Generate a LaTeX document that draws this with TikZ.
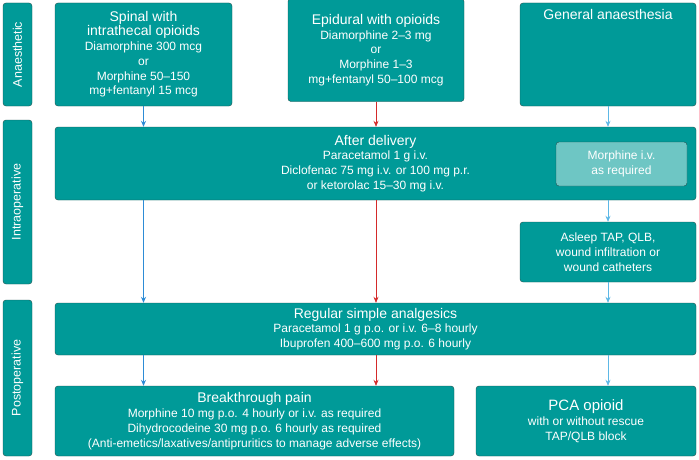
\documentclass[tikz,border=0pt]{standalone}
\usepackage{fontspec}
\setmainfont{Liberation Sans}
\usetikzlibrary{arrows.meta}
\definecolor{teal1}{HTML}{009A98}
\definecolor{teal2}{HTML}{6EC6C4}
\definecolor{edge1}{HTML}{1F4F4E}
\definecolor{ablue}{HTML}{2D8CD6}
\definecolor{ared}{HTML}{D42A2A}
\definecolor{alblue}{HTML}{5DB8E6}
\newcommand{\ttl}[1]{{\fontsize{14}{15.5}\selectfont #1}}
\tikzset{
 box/.style={draw=edge1,fill=teal1,rounded corners=3pt,text=white,align=center,inner sep=0pt,
  font=\fontsize{12}{14.8}\selectfont},
 sbox/.style={box,fill=teal2},
 side/.style={box,font=\fontsize{12.5}{14}\selectfont},
 arr/.style={-{Stealth[length=6pt,width=5pt]},line width=0.7pt}
}
\begin{document}
\begin{tikzpicture}[x=1pt,y=-1pt]
\useasboundingbox (0,0) rectangle (699,460);
% side labels
\node[side,minimum width=29,minimum height=103] (s1) at (17.5,54.5) {};
\node[rotate=90,text=white,font=\fontsize{12.5}{14}\selectfont] (s1t) at (s1) {Anaesthetic};
\node[side,minimum width=29,minimum height=164] (s2) at (17.5,202) {};
\node[rotate=90,text=white,font=\fontsize{12.5}{14}\selectfont] (s2t) at (s2) {Intraoperative};
\node[side,minimum width=29,minimum height=156] (s3) at (17.5,378) {};
\node[rotate=90,text=white,font=\fontsize{12.5}{14}\selectfont] (s3t) at (s3) {Postoperative};
% top row
\node[box,minimum width=177,minimum height=103] (sp) at (143.5,54.5) {\ttl{Spinal with}\\[-1pt]\ttl{intrathecal opioids}\\Diamorphine 300 mcg\\or\\Morphine 50--150\\mg+fentanyl 15 mcg};
\node[box,minimum width=176,minimum height=103] (ep) at (376,50) {\ttl{Epidural with opioids}\\Diamorphine 2--3 mg\\or\\Morphine 1--3\\mg+fentanyl 50--100 mcg};
\node[box,minimum width=176,minimum height=103] (ga) at (608,54.5) {};
\node[text=white,font=\fontsize{14}{15.5}\selectfont,anchor=north] (gat) at (608,6) {General anaesthesia};
% intraop
\node[box,minimum width=641,minimum height=73] (ad) at (375.5,163.5) {\ttl{After delivery}\\Paracetamol 1 g i.v.\\Diclofenac 75 mg i.v. or 100 mg p.r.\\or ketorolac 15--30 mg i.v.};
\node[sbox,minimum width=131,minimum height=44] (mo) at (621.5,164) {Morphine i.v.\\as required};
\node[box,minimum width=176,minimum height=60] (as) at (608,252) {Asleep TAP, QLB,\\wound infiltration or\\wound catheters};
% postop
\node[box,minimum width=641,minimum height=52] (rs) at (375.5,329) {\ttl{Regular simple analgesics}\\Paracetamol 1 g p.o. or i.v. 6--8 hourly\\Ibuprofen 400--600 mg p.o. 6 hourly};
\node[box,minimum width=399,minimum height=70] (bt) at (254.5,421) {\ttl{Breakthrough pain}\\Morphine 10 mg p.o. 4 hourly or i.v. as required\\Dihydrocodeine 30 mg p.o. 6 hourly as required\\(Anti-emetics/laxatives/antipruritics to manage adverse effects)};
\node[box,minimum width=220,minimum height=70] (pca) at (586,421) {{\fontsize{15}{17}\selectfont PCA opioid}\\with or without rescue\\TAP/QLB block};
% arrows
\draw[arr,ablue] (sp.south) -- (sp.south |- ad.north);
\draw[arr,ablue] (sp.south |- ad.south) -- (sp.south |- rs.north);
\draw[arr,ablue] (sp.south |- rs.south) -- (sp.south |- bt.north);
\draw[arr,ared] (ep.south) -- (ep.south |- ad.north);
\draw[arr,ared] (ep.south |- ad.south) -- (ep.south |- rs.north);
\draw[arr,ared] (ep.south |- rs.south) -- (ep.south |- bt.north);
\draw[arr,alblue] (ga.south) -- (ga.south |- ad.north);
\draw[arr,alblue] (ga.south |- ad.south) -- (as.north);
\draw[arr,alblue] (as.south) -- (as.south |- rs.north);
\draw[arr,alblue] (as.south |- rs.south) -- (as.south |- pca.north);
\end{tikzpicture}
\end{document}
